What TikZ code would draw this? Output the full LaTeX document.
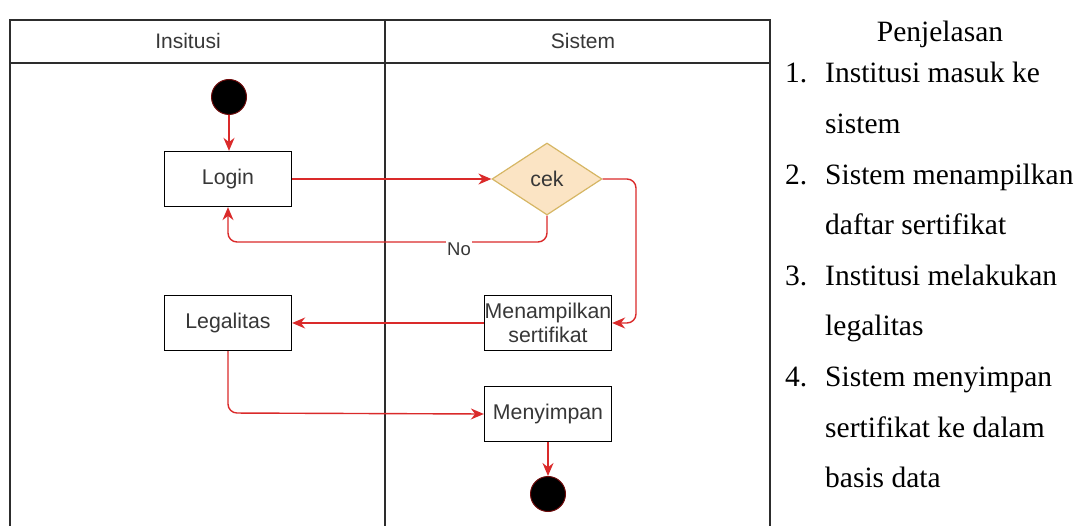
\documentclass[tikz,border=0pt]{standalone}
\usepackage{fontspec}
\setmainfont{Liberation Serif}
\newfontfamily\diagfont{Liberation Sans}
\usetikzlibrary{shapes.geometric,arrows.meta}

\definecolor{flowred}{RGB}{218,42,42}
\definecolor{lanegray}{RGB}{45,45,45}
\definecolor{labelgray}{RGB}{55,55,55}
\definecolor{decfill}{RGB}{251,228,196}
\definecolor{decdraw}{RGB}{214,182,100}
\definecolor{nodeedge}{RGB}{110,10,10}

\tikzset{
  lane/.style={draw=lanegray, line width=1.5pt},
  lanehead/.style={font=\diagfont\fontsize{21}{24}\selectfont, text=labelgray},
  action/.style={draw=black, line width=1.3pt, fill=white, minimum width=127pt,
    minimum height=55pt, inner sep=0pt, align=center,
    font=\diagfont\fontsize{21.3}{24}\selectfont, text=labelgray},
  decision/.style={diamond, draw=decdraw, line width=1.2pt, fill=decfill,
    minimum width=110pt, minimum height=72pt, inner sep=0pt,
    font=\diagfont\fontsize{21.3}{24}\selectfont, text=labelgray},
  terminal/.style={circle, fill=black, draw=nodeedge, line width=1pt,
    minimum size=35pt, inner sep=0pt},
  flow/.style={draw=flowred, line width=1.4pt, rounded corners=9pt,
    -{Stealth[length=13pt,width=11pt]}},
  guard/.style={fill=white, inner sep=1.5pt, text=labelgray,
    font=\diagfont\fontsize{18.5}{20}\selectfont},
  note/.style={anchor=base west, inner sep=0pt,
    font=\fontsize{29.5}{32}\selectfont},
}

\begin{document}
\begin{tikzpicture}[x=1pt, y=-1pt]
\useasboundingbox (0,0) rectangle (1074,526);

% swimlane frame
\draw[lane] (10,526) -- (10,20) -- (770,20) -- (770,526);
\draw[lane] (10,63) -- (770,63);
\draw[lane] (385,20) -- (385,526);
\node[lanehead] (hInst) at (188,41) {Insitusi};
\node[lanehead] (hSys) at (583,41) {Sistem};

% activity nodes
\node[terminal] (start) at (229,97) {};
\node[action] (login) at (228,179) {Login};
\node[decision] (cek) at (547,179) {cek};
\node[action] (menam) at (548,323) {Menampilkan\\sertifikat};
\node[action] (legal) at (228,323) {Legalitas};
\node[action] (simpan) at (548,414) {Menyimpan};
\node[terminal] (stop) at (548,494) {};

\coordinate (loopR) at (636,323);
\coordinate (noY) at (0,242);
\coordinate (saveY) at (0,413);

% control flow
\draw[flow] (start) -- (start |- login.north);
\draw[flow] (login) -- (cek);
\draw[flow] (cek.east) -| (loopR) -- (menam.east);
\draw[flow] (cek.south) -- (cek.south |- noY) -- (login.south |- noY) -- (login.south);
\node[guard] (no) at (459,249) {No};
\draw[flow] (menam) -- (legal);
\draw[flow] (legal.south) -- (legal.south |- saveY) -- (simpan.west);
\draw[flow] (simpan) -- (stop);

% explanation column
\node[anchor=base, inner sep=0pt, font=\fontsize{29.5}{32}\selectfont] (judul) at (940,42) {Penjelasan};
\node[note] (n1) at (785,83) {1.};
\node[note] (t1) at (825,83) {Institusi masuk ke};
\node[note] (t1b) at (825,133.6) {sistem};
\node[note] (n2) at (785,184.2) {2.};
\node[note] (t2) at (825,184.2) {Sistem menampilkan};
\node[note] (t2b) at (825,234.8) {daftar sertifikat};
\node[note] (n3) at (785,285.4) {3.};
\node[note] (t3) at (825,285.4) {Institusi melakukan};
\node[note] (t3b) at (825,336) {legalitas};
\node[note] (n4) at (785,386.6) {4.};
\node[note] (t4) at (825,386.6) {Sistem menyimpan};
\node[note] (t4b) at (825,437.2) {sertifikat ke dalam};
\node[note] (t4c) at (825,487.8) {basis data};
\end{tikzpicture}
\end{document}
